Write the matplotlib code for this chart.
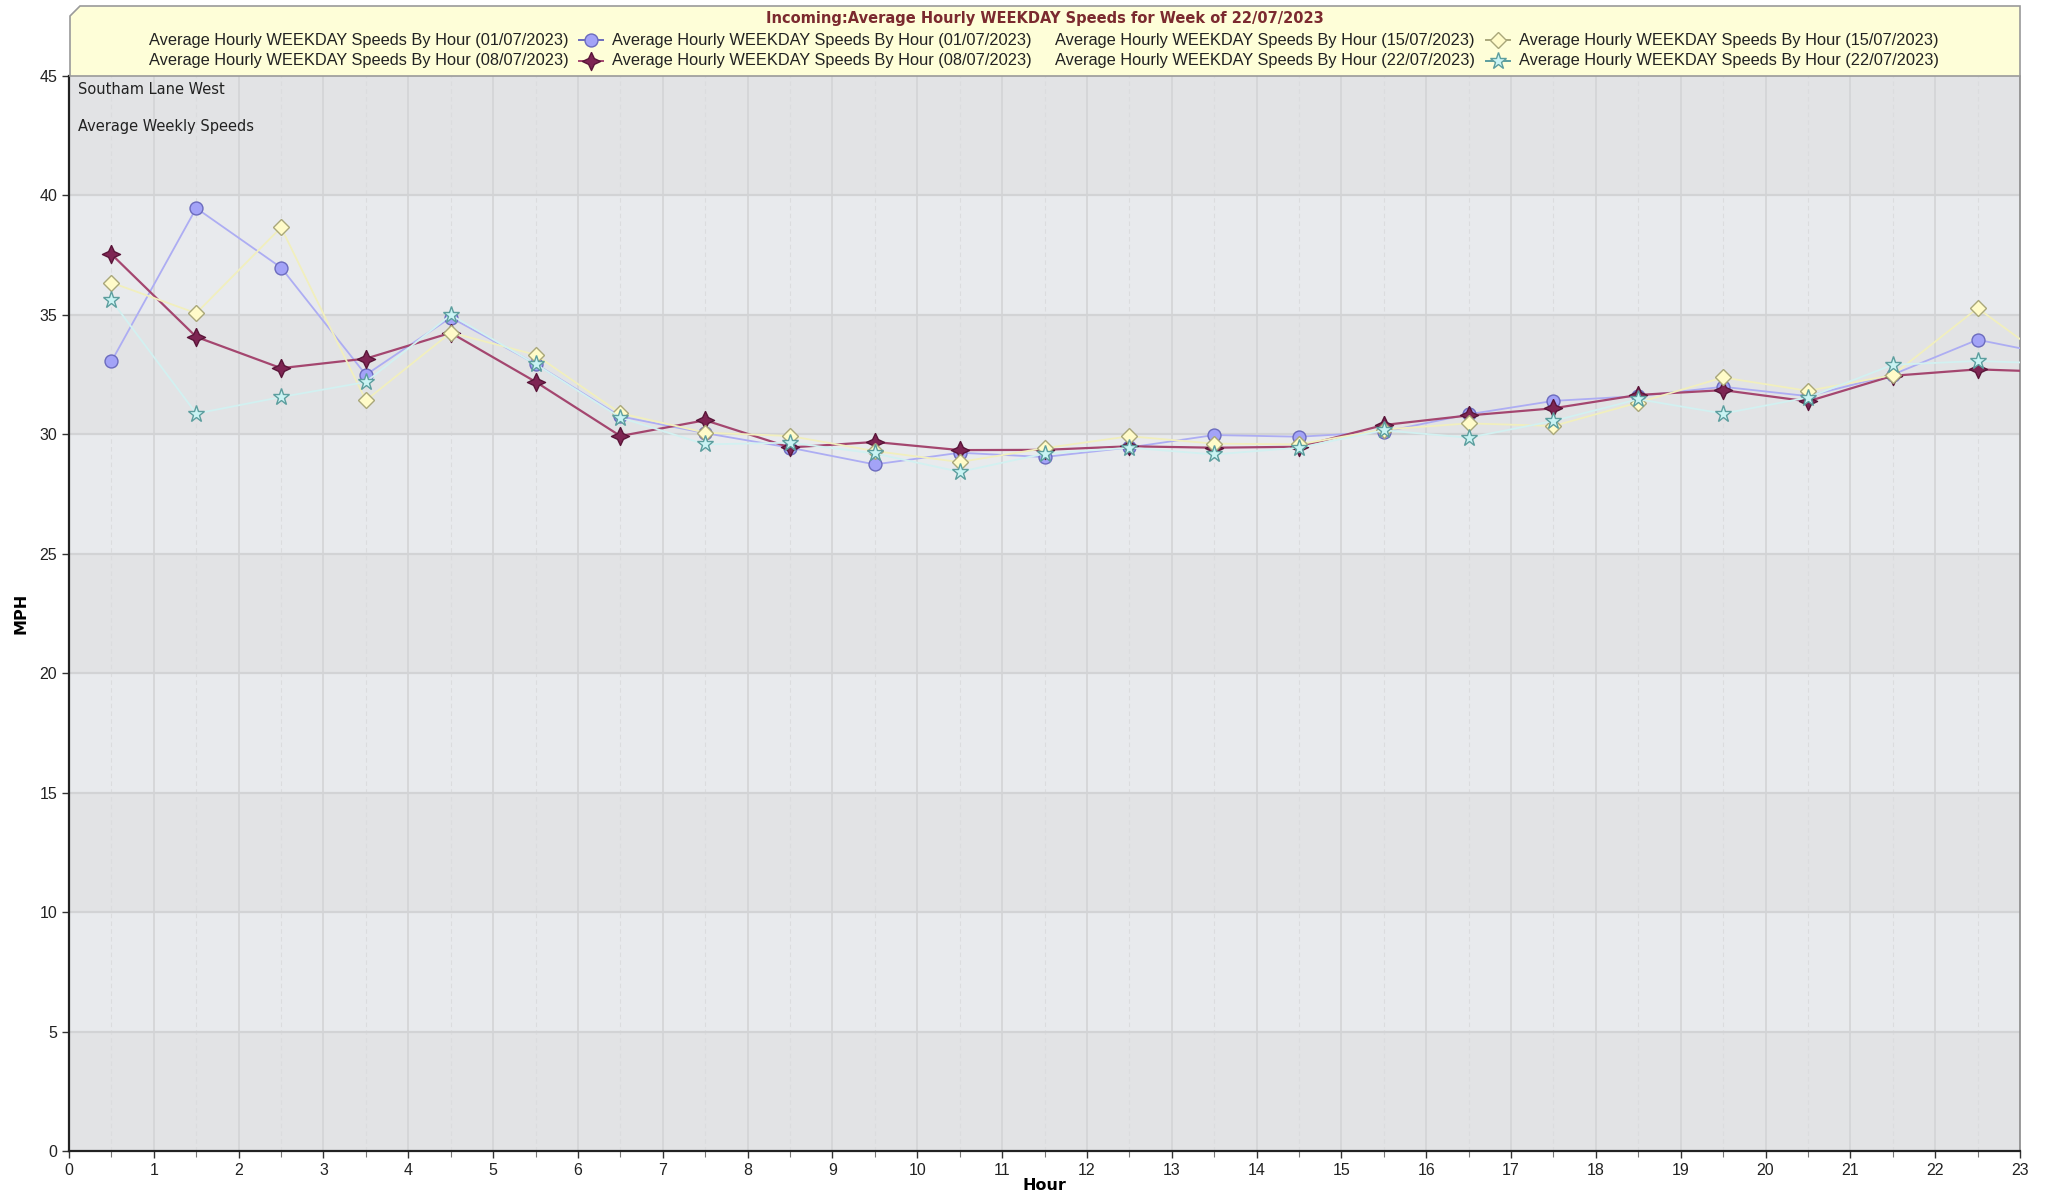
import numpy as np
import matplotlib
matplotlib.use("Agg")
import matplotlib.pyplot as plt
from matplotlib.lines import Line2D
from matplotlib.patches import Polygon

W, H = 2051, 1196

hours = [0.5, 1.5, 2.5, 3.5, 4.5, 5.5, 6.5, 7.5, 8.5, 9.5, 10.5, 11.5,
         12.5, 13.5, 14.5, 15.5, 16.5, 17.5, 18.5, 19.5, 20.5, 21.5, 22.5, 23.5]

wk_0107 = [33.05, 39.47, 36.98, 32.49, 34.89, 32.95, 30.75, 30.05, 29.44, 28.74, 29.23, 29.05,
           29.45, 29.97, 29.90, 30.10, 30.84, 31.40, 31.60, 31.99, 31.60, 32.50, 33.96, 33.25]
wk_0807 = [37.54, 34.08, 32.77, 33.17, 34.25, 32.20, 29.93, 30.59, 29.45, 29.68, 29.34, 29.35,
           29.50, 29.44, 29.48, 30.39, 30.79, 31.09, 31.65, 31.85, 31.38, 32.45, 32.72, 32.60]
wk_1507 = [36.35, 35.07, 38.66, 31.42, 34.26, 33.33, 30.88, 30.07, 29.93, 29.30, 28.84, 29.42,
           29.92, 29.61, 29.58, 30.20, 30.46, 30.35, 31.33, 32.38, 31.82, 32.48, 35.28, 32.70]
wk_2207 = [35.61, 30.87, 31.56, 32.19, 35.00, 32.94, 30.70, 29.58, 29.65, 29.20, 28.43, 29.19,
           29.44, 29.16, 29.44, 30.17, 29.86, 30.56, 31.47, 30.87, 31.54, 32.91, 33.07, 32.95]

week_dates = ["01/07/2023", "08/07/2023", "15/07/2023", "22/07/2023"]
label_base = "Average Hourly WEEKDAY Speeds By Hour ({})"
title = "Incoming:Average Hourly WEEKDAY Speeds for Week of 22/07/2023"
site_lines = ["Southam Lane West", "Average Weekly Speeds"]

# 4 pointed star for the 08/07 series
star4 = [(0, 1), (0.32, 0.32), (1, 0), (0.32, -0.32), (0, -1), (-0.32, -0.32), (-1, 0), (-0.32, 0.32), (0, 1)]

styles = [
    dict(line="#adadf3", marker="o", ms=9.3, mfc="#a3a3f7", mec="#6b6bbd", lw=1.3),
    dict(line="#a4466f", marker=star4, ms=13, mfc="#7e2553", mec="#5a1539", lw=1.6),
    dict(line="#f1efbd", marker="D", ms=8.2, mfc="#fffbc9", mec="#a9a77a", lw=1.3),
    dict(line="#d2f1f1", marker="*", ms=12.5, mfc="#c9f3f3", mec="#5c9e9e", lw=1.3),
]
series = [wk_0107, wk_0807, wk_1507, wk_2207]


def px(x, y):
    return x / W, 1 - y / H


fig = plt.figure(figsize=(W / 100, H / 100), dpi=100)
fig.patch.set_facecolor("white")

x0, x1, y0, y1 = 69, 2020, 76, 1151
ax = fig.add_axes([x0 / W, 1 - y1 / H, (x1 - x0) / W, (y1 - y0) / H])
ax.set_xlim(0, 23)
ax.set_ylim(0, 45)

# alternating bands
for i, lo in enumerate(range(0, 45, 5)):
    c = "#e2e3e5" if i % 2 == 0 else "#e8eaed"
    ax.axhspan(lo, lo + 5, color=c, zorder=0, lw=0)

for h in range(1, 23):
    ax.axvline(h, color="#d3d4d6", lw=1.2, zorder=1)
for h in np.arange(0.5, 23, 1.0):
    ax.axvline(h, color="#dbdcde", lw=0.8, ls=(0, (4, 3)), zorder=1)
for v in range(5, 45, 5):
    ax.axhline(v, color="#d2d3d5", lw=1.6, zorder=1)

for s, st in zip(series, styles):
    ax.plot(hours, s, color=st["line"], lw=st["lw"], marker=st["marker"], ms=st["ms"],
            mfc=st["mfc"], mec=st["mec"], mew=1.0, zorder=3)

ax.set_xticks(range(0, 24))
ax.set_xticks(np.arange(0.5, 23, 1.0), minor=True)
ax.set_yticks(range(0, 46, 5))
ax.tick_params(axis="both", direction="out", length=5, width=1, colors="#333333",
               labelsize=11.5, labelcolor="#222222")
ax.tick_params(axis="x", which="minor", length=4, width=0.8, colors="#777777")
for lab in ax.get_xticklabels() + ax.get_yticklabels():
    lab.set_family("Liberation Sans")

ax.spines["top"].set_visible(False)
ax.spines["left"].set_color("#222222")
ax.spines["bottom"].set_color("#222222")
ax.spines["left"].set_linewidth(1.6)
ax.spines["bottom"].set_linewidth(1.6)
ax.spines["right"].set_color("#8a8a8a")
ax.spines["right"].set_linewidth(1.2)

ax.set_xlabel("Hour", fontsize=11.5, fontweight="bold", labelpad=0)
ax.set_ylabel("MPH", fontsize=11.5, fontweight="bold", labelpad=8)

fig.text(*px(78, 90), site_lines[0], fontsize=10.5, va="center", ha="left", color="#222222")
fig.text(*px(78, 126), site_lines[1], fontsize=10.5, va="center", ha="left", color="#222222")

# legend / title box with chamfered corner
box = [px(70, 16), px(80, 6), px(2020, 6), px(2020, 76), px(70, 76)]
fig.add_artist(Polygon(box, closed=True, transform=fig.transFigure,
                       facecolor="#fefed8", edgecolor="#9a9a9a", lw=1.2, zorder=5))

fig.text(*px(1045, 18), title, ha="center", va="center", fontsize=10.5, fontweight="bold",
         color="#7b2a2f", zorder=6)

rows_y = [40, 61]
col_text = [149, 1055]
col_sym = [591, 1498]
col_text2 = [612, 1519]
for k, (st, d) in enumerate(zip(styles, week_dates)):
    row = k % 2
    col = k // 2
    yy = rows_y[row]
    lab = label_base.format(d)
    fig.text(*px(col_text[col], yy), lab, ha="left", va="center", fontsize=11.8,
             family="Liberation Sans", color="#222222", zorder=6)
    fig.text(*px(col_text2[col], yy), lab, ha="left", va="center", fontsize=11.8,
             family="Liberation Sans", color="#222222", zorder=6)
    cx = col_sym[col]
    xa, ya = px(cx - 12, yy)
    xb, yb = px(cx + 12, yy)
    fig.add_artist(Line2D([xa, xb], [ya, yb], transform=fig.transFigure,
                          color=st["mec"] if k != 1 else st["line"], lw=1.4, zorder=6))
    xm, ym = px(cx, yy)
    fig.add_artist(Line2D([xm], [ym], transform=fig.transFigure, marker=st["marker"],
                          ms=st["ms"], mfc=st["mfc"], mec=st["mec"], mew=1.0, zorder=7))

fig.savefig("out.png", dpi=100)
